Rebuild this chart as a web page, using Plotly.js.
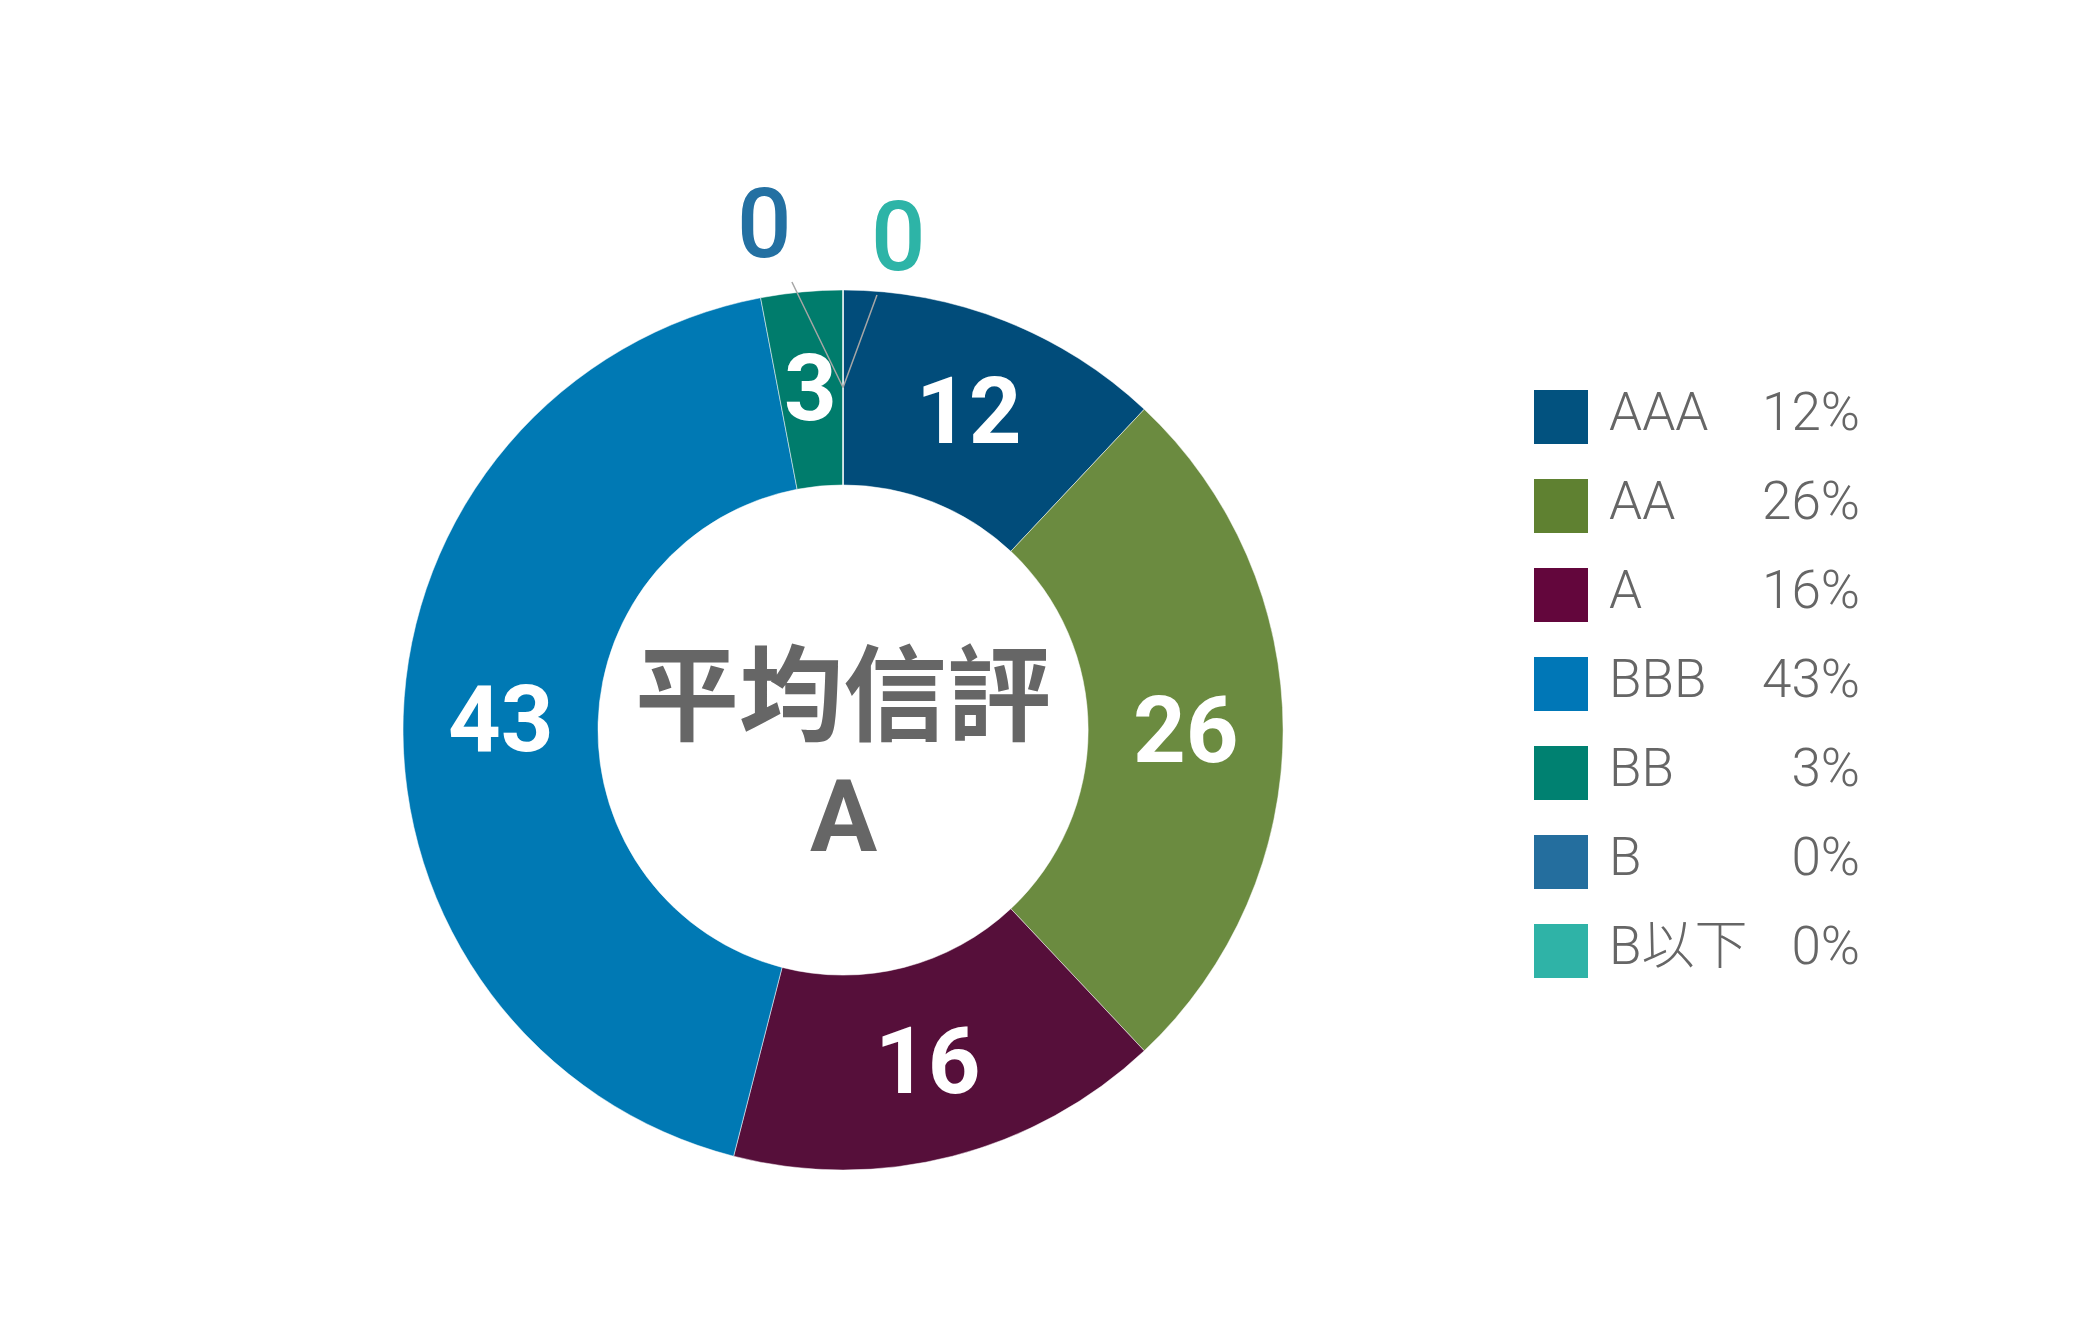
<!DOCTYPE html>
<html>
<head>
<meta charset="utf-8">
<script src="https://cdn.plot.ly/plotly-3.0.1.min.js"></script>
<style>
  html, body { margin: 0; padding: 0; background: #fff; }
  #chart { width: 2100px; height: 1329px; }
</style>
</head>
<body>
<div id="chart"></div>
<script>
// credit rating breakdown (percent)
var ratings = ["AAA", "AA", "A", "BBB", "BB", "B", "B以下"]
var shares = [12, 26, 16, 43, 3, 0, 0]
var sliceColors = ["#014C7A", "#6B8B40", "#560F3A", "#0079B4", "#007C6C", "#2370A2", "#2DB4A7"]
var legendColors = ["#02527F", "#5F8131", "#63063C", "#0077B7", "#008171", "#246E9E", "#2FB3A7"]
var centerTitle = "平均信評"
var centerRating = "A"

var W = 2100, H = 1329
var font = "Roboto, 'Noto Sans CJK TC', sans-serif"
var grey = "#666666"
var hole = 0.557

// pie domain, donut centre around (843, 730) px, radius 440 px
var pieX = [0.1919, 0.6110]
var pieY = [0.1196, 0.7818]

// zero slices are labelled outside, pulled up with a leader line (px offsets)
var zeroOffsets = { 5: [-79, -163], 6: [55, -150] }

var pie = {
    type: "pie",
    labels: ratings,
    values: shares,
    sort: false,
    direction: "clockwise",
    rotation: 0,
    hole: hole,
    domain: { x: pieX, y: pieY },
    marker: {
        colors: sliceColors,
        line: { color: "#ffffff", width: 0.5 }
    },
    textinfo: "none",
    showlegend: false,
    hoverinfo: "skip"
}

/**
 * Value labels sit on the middle of the ring, at the middle angle of each
 * slice (clockwise from 12 o'clock), like the original chart.
 */
function sliceLabels() {
    var total = shares.reduce(function (a, b) { return a + b }, 0)
    var cx = (pieX[0] + pieX[1]) / 2
    var cy = (pieY[0] + pieY[1]) / 2
    var R = Math.min((pieX[1] - pieX[0]) * W, (pieY[1] - pieY[0]) * H) / 2
    var rMid = R * (1 + hole) / 2
    var cum = 0
    var out = []

    for (var i = 0; i < shares.length; i++) {
        var ang = 2 * Math.PI * (cum + shares[i] / 2) / total
        cum += shares[i]
        var x = cx + rMid * Math.sin(ang) / W
        var y = cy + rMid * Math.cos(ang) / H

        if (shares[i] > 0) {
            out.push({
                xref: "paper", yref: "paper", x: x, y: y,
                xanchor: "center", yanchor: "middle",
                text: String(shares[i]),
                showarrow: false,
                font: { family: font, size: 92, color: "#ffffff", weight: "bold" }
            })
        } else {
            var off = zeroOffsets[i] || [0, -150]
            out.push({
                xref: "paper", yref: "paper", x: x, y: y,
                text: String(shares[i]),
                showarrow: true,
                arrowhead: 0,
                arrowwidth: 1.5,
                arrowcolor: "#A6A6A6",
                standoff: 0,
                ax: off[0], ay: off[1],
                font: { family: font, size: 96, color: sliceColors[i], weight: 500 }
            })
        }
    }
    return out
}

// home-made legend: colour squares, names, percentages
var rows = ratings.map(function (r, i) { return i })
var pctText = shares.map(function (v) { return v + "%" })

var legendBoxes = {
    type: "scatter", mode: "markers",
    x: ratings.map(function () { return 1561 }),
    y: rows,
    marker: { symbol: "square", size: 54, color: legendColors, line: { width: 0 } },
    showlegend: false, hoverinfo: "skip"
}

var legendNames = {
    type: "scatter", mode: "text",
    x: ratings.map(function () { return 1609 }),
    y: rows,
    text: ratings,
    textposition: "middle right",
    textfont: { family: font, size: 53, color: grey, weight: 300 },
    showlegend: false, hoverinfo: "skip"
}

var legendPcts = {
    type: "scatter", mode: "text",
    x: ratings.map(function () { return 1860 }),
    y: rows,
    text: pctText,
    textposition: "middle left",
    textfont: { family: font, size: 53, color: grey, weight: 300 },
    showlegend: false, hoverinfo: "skip"
}

var hiddenAxis = {
    visible: false,
    showgrid: false,
    zeroline: false,
    fixedrange: true
}

var cxPaper = (pieX[0] + pieX[1]) / 2
var cyPaper = (pieY[0] + pieY[1]) / 2

var layout = {
    width: W,
    height: H,
    margin: { l: 0, r: 0, t: 0, b: 0 },
    paper_bgcolor: "#ffffff",
    plot_bgcolor: "rgba(0,0,0,0)",
    font: { family: font, color: grey },
    showlegend: false,
    // x in pixels, one legend row every 89 px starting at 417 px from the top
    xaxis: Object.assign({ domain: [0, 1], range: [0, W] }, hiddenAxis),
    yaxis: Object.assign({ domain: [0, 1], range: [10.247, -4.685] }, hiddenAxis),
    annotations: sliceLabels().concat([
        {
            xref: "paper", yref: "paper", x: cxPaper, y: cyPaper, yshift: 33,
            xanchor: "center", yanchor: "middle",
            text: "<b>" + centerTitle + "</b>",
            showarrow: false,
            font: { family: font, size: 104, color: grey }
        },
        {
            xref: "paper", yref: "paper", x: cxPaper, y: cyPaper, yshift: -86,
            xanchor: "center", yanchor: "middle",
            text: "<b>" + centerRating + "</b>",
            showarrow: false,
            font: { family: font, size: 100, color: grey }
        }
    ])
}

var config = {
    displayModeBar: false,
    staticPlot: true
}

Plotly.newPlot("chart", [pie, legendBoxes, legendNames, legendPcts], layout, config)
</script>
</body>
</html>
